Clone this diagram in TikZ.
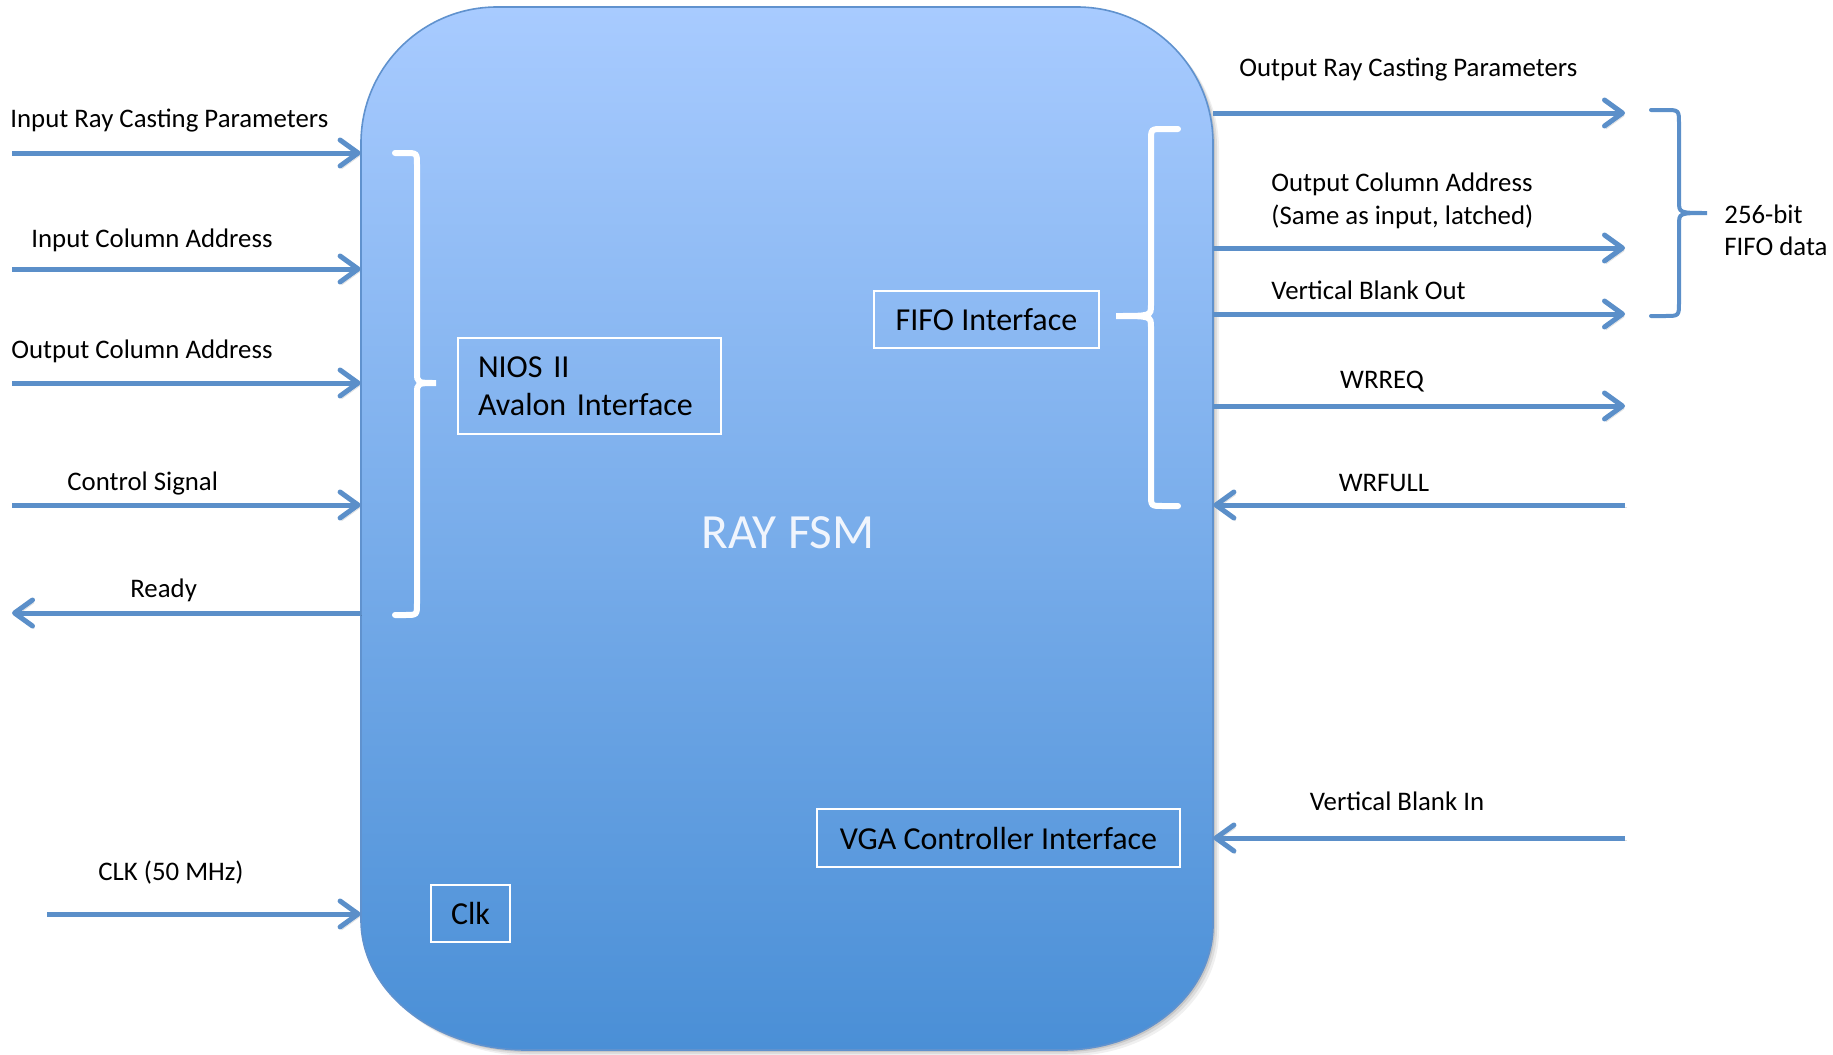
\documentclass[tikz,border=0pt]{standalone}
\usepackage{fontspec}
\setmainfont{Carlito}
\usetikzlibrary{arrows.meta}
\definecolor{sigblue}{RGB}{91,143,201}
\definecolor{fsmtop}{RGB}{168,203,255}
\definecolor{fsmbottom}{RGB}{74,143,214}
\definecolor{fsmedge}{RGB}{96,146,206}
\definecolor{fsmtext}{RGB}{240,245,253}

\begin{document}
\begin{tikzpicture}[x=0.5pt,y=-0.5pt,
  sig/.style={draw=sigblue, line width=2.5pt, -{Straight Barb[length=9pt,width=13pt,round]},
    preaction={draw=black, opacity=0.12, transform canvas={shift={(0.8pt,-1.4pt)}}}},
  lbl/.style={font=\fontsize{13.4}{16.2}\selectfont, inner sep=0pt},
  iface/.style={draw=white, line width=1pt, font=\fontsize{16}{19.2}\selectfont, inner sep=0pt},
  wbrace/.style={draw=white, line width=3pt, line cap=round},
  bbrace/.style={draw=sigblue, line width=2pt, line cap=round}
]
\useasboundingbox (0,0) rectangle (1833,1055);

% soft shadow under the state machine block
\foreach \d/\o in {6/0.06,4/0.08,2/0.10}{
  \fill[black, opacity=\o, shift={(\d,\d)}]
    (361,143) .. controls (361,68) and (422,7) .. (497,7)
    -- (1077,7) .. controls (1152,7) and (1213,68) .. (1213,143)
    -- (1213,925) .. controls (1213,994) and (1146,1050) .. (1063,1050)
    -- (526,1050) .. controls (435,1050) and (361,992) .. (361,920) -- cycle;
}
% the state machine block
\shade[top color=fsmtop, bottom color=fsmbottom, draw=fsmedge, line width=0.8pt]
    (361,143) .. controls (361,68) and (422,7) .. (497,7)
    -- (1077,7) .. controls (1152,7) and (1213,68) .. (1213,143)
    -- (1213,925) .. controls (1213,994) and (1146,1050) .. (1063,1050)
    -- (526,1050) .. controls (435,1050) and (361,992) .. (361,920) -- cycle;
\node[inner sep=0pt, minimum width=426pt, minimum height=521.5pt] (fsm) at (787,528.5) {};
\node[font=\fontsize{24.6}{28}\selectfont, text=fsmtext, inner sep=0pt] (fsmname) at (788,533) {RAY FSM};

% interface blocks
\node[iface, minimum width=131.5pt, minimum height=48pt, text width=111.5pt, align=left] (nios) at (589.5,386)
  {NIOS II\\Avalon Interface};
\node[iface, minimum width=112.5pt, minimum height=28.5pt] (fifo) at (986.5,319.5) {FIFO Interface};
\node[iface, minimum width=181.5pt, minimum height=29pt] (vga) at (998.5,838) {VGA Controller Interface};
\node[iface, minimum width=39.5pt, minimum height=28.5pt] (clkbox) at (470.5,913.5) {Clk};

% white braces grouping the bus signals
\draw[wbrace] (395,153) -- (405,153) .. controls (417,153) .. (417,165) -- (417,372)
  .. controls (417,383) .. (436,383) .. controls (417,383) .. (417,394) -- (417,603)
  .. controls (417,615) .. (405,615) -- (395,615);
\draw[wbrace] (1178,129) -- (1163,129) .. controls (1151,129) .. (1151,141) -- (1151,305)
  .. controls (1151,316) .. (1116,316) .. controls (1151,316) .. (1151,327) -- (1151,494)
  .. controls (1151,506) .. (1163,506) -- (1178,506);

% left side signals
\coordinate (irp) at (12,153);
\coordinate (icol) at (12,269);
\coordinate (ocol) at (12,383);
\coordinate (ctl) at (12,505);
\coordinate (rdy) at (12,613);
\coordinate (clk) at (47,914);
\draw[sig] (irp) -- (irp -| fsm.west);
\draw[sig] (icol) -- (icol -| fsm.west);
\draw[sig] (ocol) -- (ocol -| fsm.west);
\draw[sig] (ctl) -- (ctl -| fsm.west);
\draw[sig] (rdy -| fsm.west) -- (rdy);
\draw[sig] (clk) -- (clk -| fsm.west);

\node[lbl, anchor=base west] (lirp) at (10,127) {Input Ray Casting Parameters};
\node[lbl, anchor=base west] (licol) at (31,247) {Input Column Address};
\node[lbl, anchor=base west] (locol) at (11,358) {Output Column Address};
\node[lbl, anchor=base west] (lctl) at (67,490) {Control Signal};
\node[lbl, anchor=base west] (lrdy) at (130,597) {Ready};
\node[lbl, anchor=base west] (lclk) at (98,880) {CLK (50 MHz)};

% right side signals
\coordinate (orp) at (1625,113);
\coordinate (ocolr) at (1625,248);
\coordinate (vbo) at (1625,314);
\coordinate (wrreq) at (1625,406);
\coordinate (wrfull) at (1625,505);
\coordinate (vbi) at (1625,838);
\draw[sig] (orp -| fsm.east) -- (orp);
\draw[sig] (ocolr -| fsm.east) -- (ocolr);
\draw[sig] (vbo -| fsm.east) -- (vbo);
\draw[sig] (wrreq -| fsm.east) -- (wrreq);
\draw[sig] (wrfull) -- (wrfull -| fsm.east);
\draw[sig] (vbi) -- (vbi -| fsm.east);

\node[lbl, anchor=base west] (lorp) at (1239,76) {Output Ray Casting Parameters};
\node[lbl, anchor=west, align=left] (locolr) at (1271,201) {Output Column Address\\(Same as input, latched)};
\node[lbl, anchor=base west] (lvbo) at (1271,299) {Vertical Blank Out};
\node[lbl, anchor=base] (lwrreq) at (1382,388) {WRREQ};
\node[lbl, anchor=base] (lwrfull) at (1384,491) {WRFULL};
\node[lbl, anchor=base] (lvbi) at (1397,810) {Vertical Blank In};

% blue brace: the FIFO data word
\draw[bbrace] (1651,110) -- (1665,110) .. controls (1679,110) .. (1679,124) -- (1679,201)
  .. controls (1679,213) .. (1707,213) .. controls (1679,213) .. (1679,225) -- (1679,302)
  .. controls (1679,316) .. (1665,316) -- (1651,316);
\node[lbl, anchor=west, align=left] (lfifo) at (1724,230) {256-bit\\FIFO data};
\end{tikzpicture}
\end{document}
